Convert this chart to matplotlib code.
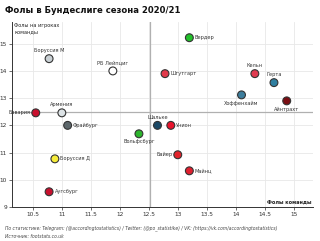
import matplotlib
matplotlib.use("Agg")
import matplotlib.pyplot as plt

teams = ["Вердер", "Боруссия М", "РБ Лейпциг", "Штутгарт", "Кельн", "Герта",
         "Хоффенхайм", "Айнтрахт", "Бавария", "Армения", "Фрайбург", "Шальке",
         "Унион", "Вольфсбург", "Боруссия Д", "Байер", "Майнц", "Аугсбург"]
fouls_team = [13.2, 10.78, 11.88, 12.78, 14.33, 14.66, 14.1, 14.88, 10.55, 11.0,
              11.1, 12.65, 12.88, 12.33, 10.88, 13.0, 13.2, 10.78]
fouls_on = [15.22, 14.45, 14.0, 13.9, 13.9, 13.57, 13.12, 12.9, 12.46, 12.46,
            12.0, 12.0, 12.0, 11.69, 10.77, 10.92, 10.33, 9.56]
colors = ["#22c02a", "#c9d0d4", "#ffffff", "#e23a4b", "#e03a50", "#2f7fa0",
          "#3c7d9c", "#7a0d12", "#c8102e", "#dde3e6", "#5d676b", "#1b4966",
          "#e8142c", "#2db52d", "#f6ec3a", "#e2232b", "#e0202f", "#c8102e"]
mean_x = 12.52
mean_y = 12.5
xticks = [10.5, 11, 11.5, 12, 12.5, 13, 13.5, 14, 14.5, 15]
yticks = [9, 10, 11, 12, 13, 14, 15]

placement = ["right", "above", "above", "right", "above", "above", "below", "below",
             "left", "above", "right", "above", "right", "below", "right", "left",
             "right", "right"]

fig = plt.figure(figsize=(3.2, 2.41), dpi=100)
ax = fig.add_axes([0.0375, 0.141, 0.94, 0.768])
ax.set_xlim(10.14, 15.33)
ax.set_ylim(9, 15.8)
ax.set_xticks(xticks)
ax.set_xticklabels([f"{t:g}" for t in xticks])
ax.set_yticks(yticks)
ax.grid(True, color="#e8e8e8", linewidth=0.6)
ax.set_axisbelow(True)
for s in ["top", "right"]:
    ax.spines[s].set_visible(False)
for s in ["left", "bottom"]:
    ax.spines[s].set_color("#333333")
    ax.spines[s].set_linewidth(0.7)
ax.tick_params(labelsize=4.2, length=2, width=0.5, pad=1.5, colors="#333333")

ax.axvline(mean_x, color="#b0b0b0", linewidth=0.9, zorder=1)
ax.axhline(mean_y, color="#b0b0b0", linewidth=0.9, zorder=1)

ax.scatter(fouls_team, fouls_on, s=32, c=colors, edgecolors="#333333",
           linewidths=0.8, zorder=3)

for name, x, y, p in zip(teams, fouls_team, fouls_on, placement):
    if p == "right":
        ax.annotate(name, (x, y), xytext=(4, 0), textcoords="offset points",
                    ha="left", va="center", fontsize=3.6, color="#333333")
    elif p == "left":
        ax.annotate(name, (x, y), xytext=(-4, 0), textcoords="offset points",
                    ha="right", va="center", fontsize=3.6, color="#333333")
    elif p == "above":
        ax.annotate(name, (x, y), xytext=(0, 4), textcoords="offset points",
                    ha="center", va="bottom", fontsize=3.6, color="#333333")
    else:
        ax.annotate(name, (x, y), xytext=(0, -4), textcoords="offset points",
                    ha="center", va="top", fontsize=3.6, color="#333333")

ax.text(0.008, 0.995, "Фолы на игроках\nкоманды", transform=ax.transAxes,
        ha="left", va="top", fontsize=3.6, color="#222222", linespacing=1.3)
ax.text(0.995, 0.015, "Фолы команды", transform=ax.transAxes,
        ha="right", va="bottom", fontsize=3.6, color="#222222", fontweight="bold")

fig.text(0.016, 0.955, "Фолы в Бундеслиге сезона 2020/21", ha="left", va="center",
         fontsize=6.1, fontweight="bold", color="#111111")
fig.text(0.016, 0.052,
         "По статистике: Telegram: (@accordingtostatistics) / Twitter: (@po_statistike) / VK: (https://vk.com/accordingtostatistics)",
         ha="left", va="center", fontsize=3.25, style="italic", color="#444444")
fig.text(0.016, 0.018, "Источник: footstats.co.uk", ha="left", va="center",
         fontsize=3.25, style="italic", color="#444444")

fig.savefig("out.png", dpi=100)
